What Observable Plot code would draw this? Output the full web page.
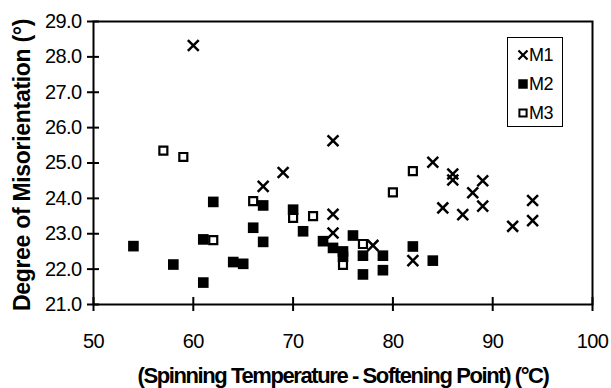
<!DOCTYPE html>
<html><head><meta charset="utf-8">
<script src="https://cdn.jsdelivr.net/npm/d3@7"></script>
<script src="https://cdn.jsdelivr.net/npm/@observablehq/plot@0.6"></script>
<style>
body{margin:0;background:#fff;}
#wrap{position:relative;width:611px;height:388px;font-family:"Liberation Sans",Arial,sans-serif;}
#wrap svg text{letter-spacing:-0.6px;}
#legend{position:absolute;left:507px;top:37px;}
</style>
</head><body>
<div id="wrap"></div>
<script>
// Data
const seriesNames = ["M1", "M2", "M3"];
const m1X = [60, 67, 69, 74, 74, 74, 78, 82, 84, 85, 86, 86, 87, 88, 89, 89, 92, 94, 94];
const m1Y = [28.32, 24.34, 24.73, 25.63, 23.55, 23.02, 22.67, 22.24, 25.02, 23.73, 24.69, 24.52, 23.54, 24.16, 24.50, 23.78, 23.21, 23.94, 23.37];
const m2X = [54, 58, 61, 61, 62, 64, 65, 66, 67, 67, 70, 71, 73, 74, 75, 75, 76, 77, 77, 79, 79, 82, 84];
const m2Y = [22.65, 22.13, 22.84, 21.62, 23.90, 22.20, 22.15, 23.17, 23.80, 22.77, 23.68, 23.07, 22.79, 22.60, 22.50, 22.35, 22.95, 22.38, 21.85, 22.38, 21.97, 22.64, 22.24];
const m3X = [57, 59, 62, 66, 70, 72, 75, 77, 80, 82];
const m3Y = [25.35, 25.17, 22.82, 23.92, 23.45, 23.50, 22.12, 22.71, 24.17, 24.77];
const xTicks = [50, 60, 70, 80, 90, 100];
const yTicks = [21, 22, 23, 24, 25, 26, 27, 28, 29];
const xTitle = "(Spinning Temperature - Softening Point) (°C)";
const yTitle = "Degree of Misorientation (°)";

const toRows = (xs, ys, s) => xs.map((x, i) => ({x, y: ys[i], s}));
const m1 = toRows(m1X, m1Y, "M1");
const m2 = toRows(m2X, m2Y, "M2");
const m3 = toRows(m3X, m3Y, "M3");

const font = "Liberation Sans, Arial, sans-serif";
const plot = Plot.plot({
  width: 611, height: 388,
  marginLeft: 93, marginRight: 19, marginTop: 21, marginBottom: 84,
  x: {domain: [50, 100]},
  y: {domain: [21, 29]},
  style: {fontFamily: font, fontSize: "20px", color: "#000", background: "#fff"},
  marks: [
    Plot.frame({stroke: "#000", strokeWidth: 2}),
    Plot.axisX(xTicks, {tickSize: 14, dy: -7, fill: "none", stroke: "#000", strokeWidth: 2, label: null}),
    Plot.axisX(xTicks, {tickSize: 0, tickPadding: 29, tickFormat: d => String(d), label: null, fill: "#000", fontSize: 20}),
    Plot.axisY(yTicks, {tickSize: 12, dx: 6, fill: "none", stroke: "#000", strokeWidth: 2, label: null}),
    Plot.axisY(yTicks, {tickSize: 0, tickPadding: 12, tickFormat: d => d.toFixed(1), label: null, fill: "#000", fontSize: 20}),
    Plot.dot(m3, {x: "x", y: "y", symbol: "square", r: 4.5, stroke: "#000", strokeWidth: 2.2, fill: "#fff"}),
    Plot.dot(m2, {x: "x", y: "y", symbol: "square", r: 6, fill: "#000"}),
    Plot.dot(m1, {x: "x", y: "y", symbol: "times", r: 5, stroke: "#000", strokeWidth: 2.5}),
    Plot.text([xTitle], {text: d => d, frameAnchor: "bottom", textAnchor: "middle", dy: 78, fontSize: 22, fontWeight: "bold", fill: "#000"}),
    Plot.text([yTitle], {text: d => d, frameAnchor: "left", textAnchor: "middle", rotate: -90, dx: -71, dy: 2, fontSize: 23, fontWeight: "bold", fill: "#000"})
  ]
});
const wrap = document.getElementById("wrap");
wrap.appendChild(plot);
d3.select(plot).selectAll("text").each(function () {
  if (this.textContent === xTitle) this.setAttribute("style", "letter-spacing:-1.4px");
  if (this.textContent === yTitle) this.setAttribute("style", "letter-spacing:-0.3px");
});

// Legend (inside the plot area, top-right)
const lw = 56, lh = 90;
const leg = d3.select(wrap).append("svg").attr("id", "legend").attr("width", lw).attr("height", lh);
leg.append("rect").attr("x", 0.5).attr("y", 0.5).attr("width", lw - 1).attr("height", lh - 1)
  .attr("fill", "#fff").attr("stroke", "#000").attr("stroke-width", 1);
const legStyles = {
  M1: {type: d3.symbolTimes, size: 55, fill: "none", stroke: "#000", sw: 2.2},
  M2: {type: d3.symbolSquare, size: 90, fill: "#000", stroke: "none", sw: 0},
  M3: {type: d3.symbolSquare, size: 52, fill: "#fff", stroke: "#000", sw: 2}
};
seriesNames.forEach((name, i) => {
  const cy = 18 + i * 29;
  const st = legStyles[name];
  leg.append("path").attr("d", d3.symbol(st.type, st.size)()).attr("transform", `translate(16,${cy})`)
    .attr("fill", st.fill).attr("stroke", st.stroke).attr("stroke-width", st.sw);
  leg.append("text").attr("x", 22).attr("y", cy).attr("dy", "0.35em").text(name)
    .attr("font-family", font).attr("font-size", 18).attr("letter-spacing", "-1px").attr("fill", "#000");
});
</script>
</body></html>
